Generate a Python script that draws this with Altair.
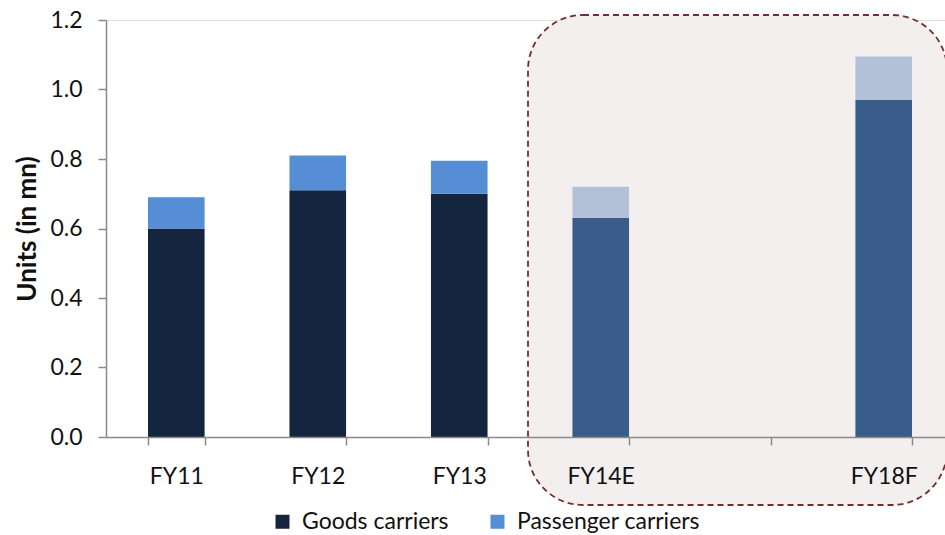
import altair as alt
import pandas as pd

# ---- data ----
years = ["FY11", "FY12", "FY13", "FY14E", "FY18F"]
slots = ["FY11", "FY12", "FY13", "FY14E", " ", "FY18F"]
goods = [0.60, 0.71, 0.70, 0.63, 0.97]
passenger = [0.09, 0.10, 0.095, 0.09, 0.125]
is_forecast = [False, False, False, True, True]
series = ["Goods carriers", "Passenger carriers"]
keys = ["Goods carriers", "Passenger carriers", "Goods carriers (F)", "Passenger carriers (F)"]
key_colors = ["#14263F", "#558ED5", "#3A5C8A", "#B2C1D8"]
y_ticks = [0.0, 0.2, 0.4, 0.6, 0.8, 1.0, 1.2]

rows = []
for yr, g, p, f in zip(years, goods, passenger, is_forecast):
    suf = " (F)" if f else ""
    rows.append({"year": yr, "series": series[0], "key": series[0] + suf, "value": g, "ord": 0})
    rows.append({"year": yr, "series": series[1], "key": series[1] + suf, "value": p, "ord": 1})
df = pd.DataFrame(rows)

FONT = "Lato"
LEFT, TOP = 106, 20
W, H = 945 - LEFT, 417

box = alt.Chart(pd.DataFrame({"a": [0]})).mark_rect(
    cornerRadius=55, fill="#F3EFEF", stroke="#772D2D",
    strokeDash=[6, 4], strokeWidth=1.8
).encode(
    x=alt.value(422), x2=alt.value(841), y=alt.value(-5), y2=alt.value(485)
)

bars = alt.Chart(df).mark_bar().encode(
    x=alt.X("year:N",
            scale=alt.Scale(domain=slots, paddingInner=0.6, paddingOuter=0.265, align=0.56),
            axis=alt.Axis(title=None, labelAngle=0, tickBand="extent",
                          tickSize=8, labelPadding=20, domainColor="#8A8A8A",
                          tickColor="#8A8A8A", domainWidth=1.5, tickWidth=1.5,
                          labelFont=FONT, labelFontSize=23, labelColor="#111111",
                          zindex=1)),
    y=alt.Y("value:Q", stack="zero",
            scale=alt.Scale(domain=[0, 1.2], nice=False),
            axis=alt.Axis(values=y_ticks, format=".1f", title="Units (in mn)",
                          grid=False, tickSize=8, labelPadding=16,
                          domainColor="#8A8A8A", tickColor="#8A8A8A",
                          domainWidth=1.5, tickWidth=1.5,
                          labelFont=FONT, labelFontSize=23, labelColor="#111111",
                          titleFont=FONT, titleFontSize=26, titleFontWeight="bold",
                          titleColor="#111111", titlePadding=9, zindex=1)),
    color=alt.Color("key:N",
                    scale=alt.Scale(domain=keys, range=key_colors),
                    legend=alt.Legend(values=series, title=None, orient="none",
                                      legendX=165, legendY=490, direction="horizontal",
                                      symbolType="square", symbolSize=196,
                                      symbolStrokeWidth=0, labelFont=FONT,
                                      labelFontSize=23, labelColor="#111111",
                                      labelLimit=400, columnPadding=37, labelOffset=8)),
    order=alt.Order("ord:Q"),
)

chart = alt.layer(box, bars).properties(
    width=W, height=H,
    autosize=alt.AutoSizeParams(type="none"),
    padding={"left": LEFT, "top": TOP, "right": 0, "bottom": 535 - TOP - H},
).configure_view(stroke=None).configure(background="white")

chart.save("out.html", embed_options={"renderer": "svg", "actions": False})
